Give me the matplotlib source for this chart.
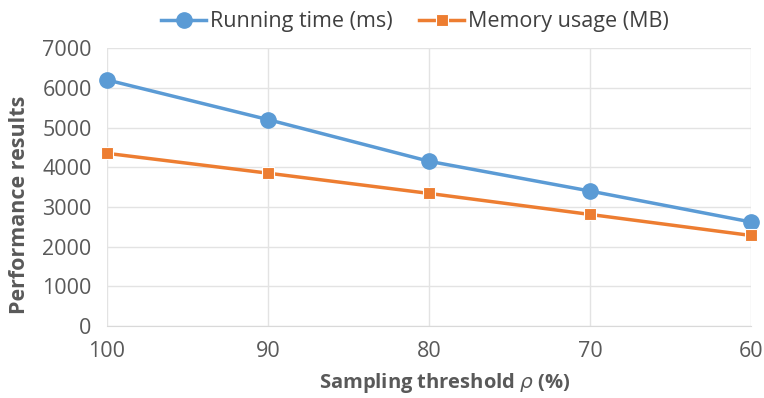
import matplotlib
matplotlib.use("Agg")
import matplotlib.pyplot as plt

categories = ["100", "90", "80", "70", "60"]
running_time = [6200, 5200, 4150, 3400, 2620]
memory_usage = [4350, 3850, 3340, 2810, 2280]
yticks = [0, 1000, 2000, 3000, 4000, 5000, 6000, 7000]

plt.rcParams['font.family'] = ['Open Sans', 'DejaVu Sans']
TXT = '#595959'

fig = plt.figure(figsize=(7.64, 3.98), dpi=100)
ax = fig.add_axes([0.140, 0.181, 0.843, 0.698])

x = list(range(len(categories)))
ax.plot(x, running_time, color='#5B9BD5', lw=2.5, marker='o', ms=11,
        markeredgecolor='#5B9BD5', label='Running time (ms)', zorder=3, clip_on=False)
ax.plot(x, memory_usage, color='#ED7D31', lw=2.5, marker='s', ms=9,
        markeredgecolor='white', markeredgewidth=0.8, label='Memory usage (MB)', zorder=3, clip_on=False)

ax.set_xlim(0, len(categories) - 1)
ax.set_ylim(0, 7000)
ax.set_xticks(x)
ax.set_xticklabels(categories)
ax.set_yticks(yticks)
ax.set_yticklabels([str(v) for v in yticks])
ax.tick_params(axis='both', length=0, labelsize=15.5, colors=TXT)
ax.tick_params(axis='x', pad=11)
ax.tick_params(axis='y', pad=11)

ax.grid(True, color='#e3e3e3', lw=1)
ax.set_axisbelow(True)
for s in ['top', 'right', 'left']:
    ax.spines[s].set_visible(False)
ax.spines['bottom'].set_color('#d9d9d9')

ax.set_xlabel('Sampling threshold $\\rho$ (%)', fontsize=14.5, fontweight='bold', color=TXT)
ax.xaxis.set_label_coords(0.525, -0.163)
ax.xaxis.label.set_va('top')
ax.set_ylabel('Performance results', fontsize=15.5, fontweight='bold', color=TXT)
ax.yaxis.set_label_coords(-0.12, 0.435)

leg = fig.legend(loc='upper center', bbox_to_anchor=(0.543, 1.02), ncol=2, frameon=False,
                 fontsize=15.5, handlelength=2.1, columnspacing=1.25, handletextpad=0.15)
for t in leg.get_texts():
    t.set_color('#404040')

fig.savefig('out.png', dpi=100)
